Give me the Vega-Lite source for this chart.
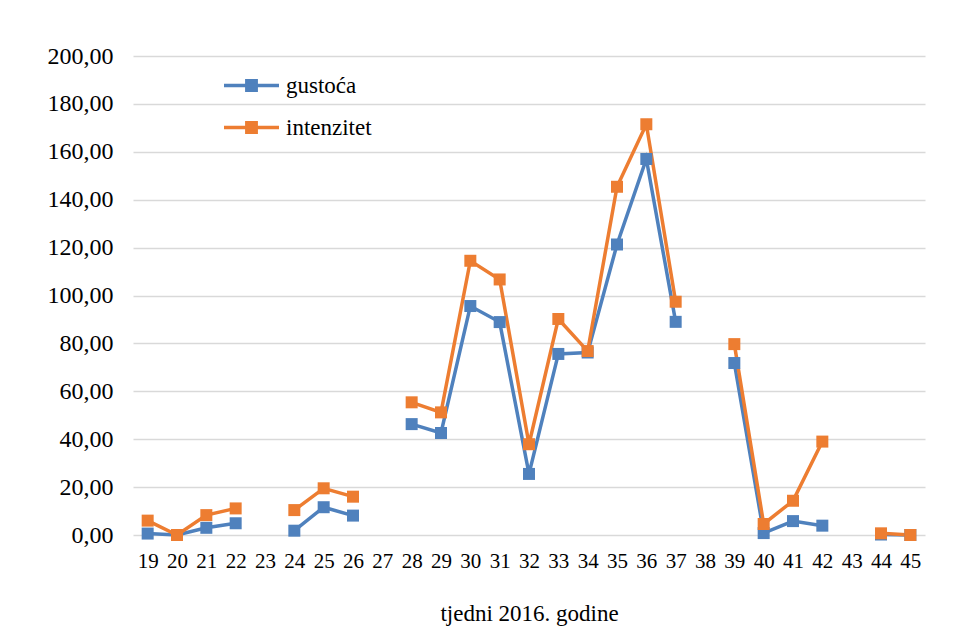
{
  "$schema": "https://vega.github.io/schema/vega-lite/v6.json",
  "width": 792,
  "height": 479,
  "autosize": {"type": "none"},
  "padding": {"left": 133, "top": 56, "right": 45, "bottom": 108},
  "background": "#ffffff",
  "config": {
    "font": "Liberation Serif, Times New Roman, serif",
    "view": {"stroke": null},
    "text": {"font": "Liberation Serif, Times New Roman, serif"},
    "legend": {"labelFont": "Liberation Serif, Times New Roman, serif"},
    "axis": {"labelColor": "#000000", "titleColor": "#000000", "labelFont": "Liberation Serif, Times New Roman, serif", "titleFont": "Liberation Serif, Times New Roman, serif"}
  },
  "data": {
    "values": [
      {"tjedan": 19, "serija": "gustoća", "vrijednost": 0.6},
      {"tjedan": 20, "serija": "gustoća", "vrijednost": 0},
      {"tjedan": 21, "serija": "gustoća", "vrijednost": 3.0},
      {"tjedan": 22, "serija": "gustoća", "vrijednost": 4.9},
      {"tjedan": 23, "serija": "gustoća", "vrijednost": null},
      {"tjedan": 24, "serija": "gustoća", "vrijednost": 1.8},
      {"tjedan": 25, "serija": "gustoća", "vrijednost": 11.6},
      {"tjedan": 26, "serija": "gustoća", "vrijednost": 8.1},
      {"tjedan": 27, "serija": "gustoća", "vrijednost": null},
      {"tjedan": 28, "serija": "gustoća", "vrijednost": 46.3},
      {"tjedan": 29, "serija": "gustoća", "vrijednost": 42.6},
      {"tjedan": 30, "serija": "gustoća", "vrijednost": 95.6},
      {"tjedan": 31, "serija": "gustoća", "vrijednost": 88.9},
      {"tjedan": 32, "serija": "gustoća", "vrijednost": 25.5},
      {"tjedan": 33, "serija": "gustoća", "vrijednost": 75.6},
      {"tjedan": 34, "serija": "gustoća", "vrijednost": 76.2},
      {"tjedan": 35, "serija": "gustoća", "vrijednost": 121.3},
      {"tjedan": 36, "serija": "gustoća", "vrijednost": 157.0},
      {"tjedan": 37, "serija": "gustoća", "vrijednost": 89.0},
      {"tjedan": 38, "serija": "gustoća", "vrijednost": null},
      {"tjedan": 39, "serija": "gustoća", "vrijednost": 71.8},
      {"tjedan": 40, "serija": "gustoća", "vrijednost": 0.8},
      {"tjedan": 41, "serija": "gustoća", "vrijednost": 5.8},
      {"tjedan": 42, "serija": "gustoća", "vrijednost": 3.9},
      {"tjedan": 43, "serija": "gustoća", "vrijednost": null},
      {"tjedan": 44, "serija": "gustoća", "vrijednost": 0.2},
      {"tjedan": 45, "serija": "gustoća", "vrijednost": 0},
      {"tjedan": 19, "serija": "intenzitet", "vrijednost": 6.0},
      {"tjedan": 20, "serija": "intenzitet", "vrijednost": 0},
      {"tjedan": 21, "serija": "intenzitet", "vrijednost": 8.3},
      {"tjedan": 22, "serija": "intenzitet", "vrijednost": 11.1},
      {"tjedan": 23, "serija": "intenzitet", "vrijednost": null},
      {"tjedan": 24, "serija": "intenzitet", "vrijednost": 10.4},
      {"tjedan": 25, "serija": "intenzitet", "vrijednost": 19.5},
      {"tjedan": 26, "serija": "intenzitet", "vrijednost": 16.0},
      {"tjedan": 27, "serija": "intenzitet", "vrijednost": null},
      {"tjedan": 28, "serija": "intenzitet", "vrijednost": 55.4},
      {"tjedan": 29, "serija": "intenzitet", "vrijednost": 51.2},
      {"tjedan": 30, "serija": "intenzitet", "vrijednost": 114.5},
      {"tjedan": 31, "serija": "intenzitet", "vrijednost": 106.7},
      {"tjedan": 32, "serija": "intenzitet", "vrijednost": 37.9},
      {"tjedan": 33, "serija": "intenzitet", "vrijednost": 90.2},
      {"tjedan": 34, "serija": "intenzitet", "vrijednost": 76.8},
      {"tjedan": 35, "serija": "intenzitet", "vrijednost": 145.4},
      {"tjedan": 36, "serija": "intenzitet", "vrijednost": 171.5},
      {"tjedan": 37, "serija": "intenzitet", "vrijednost": 97.4},
      {"tjedan": 38, "serija": "intenzitet", "vrijednost": null},
      {"tjedan": 39, "serija": "intenzitet", "vrijednost": 79.7},
      {"tjedan": 40, "serija": "intenzitet", "vrijednost": 4.6},
      {"tjedan": 41, "serija": "intenzitet", "vrijednost": 14.3},
      {"tjedan": 42, "serija": "intenzitet", "vrijednost": 39.0},
      {"tjedan": 43, "serija": "intenzitet", "vrijednost": null},
      {"tjedan": 44, "serija": "intenzitet", "vrijednost": 0.7},
      {"tjedan": 45, "serija": "intenzitet", "vrijednost": 0}
    ]
  },
  "encoding": {
    "x": {
      "field": "tjedan",
      "type": "ordinal",
      "sort": "ascending",
      "axis": {
        "title": "tjedni 2016. godine",
        "labelAngle": 0,
        "labelFontSize": 21,
        "labelPadding": 15,
        "ticks": false,
        "tickSize": 0,
        "domain": false,
        "grid": false,
        "titleFontSize": 23,
        "titleFontWeight": "normal",
        "titlePadding": 31
      }
    },
    "y": {
      "field": "vrijednost",
      "type": "quantitative",
      "scale": {"domain": [0, 200], "nice": false},
      "axis": {
        "title": null,
        "values": [0, 20, 40, 60, 80, 100, 120, 140, 160, 180, 200],
        "labelExpr": "replace(format(datum.value, '.2f'), '.', ',')",
        "labelFontSize": 24,
        "labelPadding": 20,
        "ticks": false,
        "tickSize": 0,
        "domain": false,
        "grid": true,
        "gridColor": "#d9d9d9",
        "gridWidth": 1.5
      }
    },
    "color": {
      "field": "serija",
      "type": "nominal",
      "scale": {"domain": ["gustoća", "intenzitet"], "range": ["#4f81bd", "#ed7d31"]},
      "legend": {
        "title": null,
        "orient": "none",
        "legendX": 89,
        "legendY": 0,
        "symbolType": "M-1,0H1M-0.17,-0.17H0.17V0.17H-0.17Z",
        "symbolSize": 3025,
        "symbolStrokeWidth": 3.5,
        "labelFontSize": 23,
        "labelColor": "#000000",
        "labelOffset": 5,
        "rowPadding": -12,
        "encode": {
          "symbols": {
            "update": {
              "fill": {"scale": "color", "field": "value"},
              "stroke": {"scale": "color", "field": "value"}
            }
          }
        }
      }
    }
  },
  "layer": [
    {
      "mark": {"type": "line", "strokeWidth": 3.5, "invalid": "break-paths-show-domains"}
    },
    {
      "mark": {"type": "point", "shape": "square", "filled": true, "size": 144, "opacity": 1, "invalid": "filter"}
    }
  ]
}
